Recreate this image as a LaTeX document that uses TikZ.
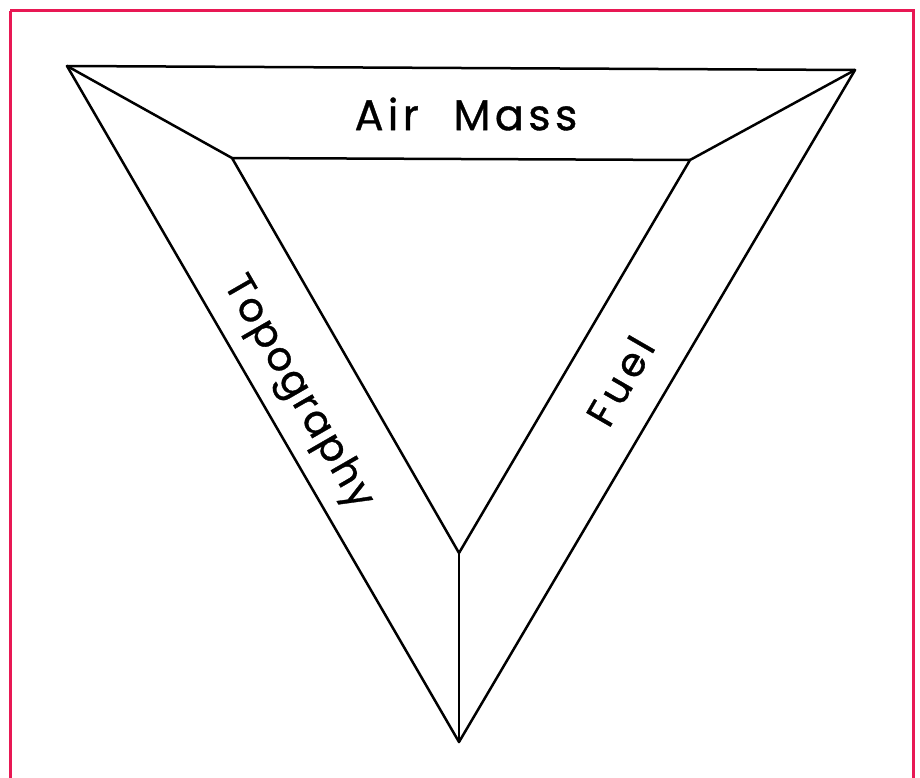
\documentclass[tikz,border=0pt]{standalone}
\usepackage{fontspec}
\setmainfont{Poppins}
\newfontfamily\airfont[LetterSpace=10,WordSpace=2.2,FakeBold=0.8]{Poppins}
\newfontfamily\topofont[LetterSpace=5,FakeBold=0.8]{Poppins}
\newfontfamily\fuelfont[LetterSpace=12,FakeBold=0.8]{Poppins}
\definecolor{frame}{RGB}{232,24,84}
\begin{document}
\begin{tikzpicture}[x=1pt,y=-1pt,
  edge/.style={line width=2.5pt,black,line join=round,line cap=round},
  lbl/.style={inner sep=0pt}]
\useasboundingbox (0,0) rectangle (920,778);
\fill[white] (0,0) rectangle (920,778);
\draw[frame,line width=3pt] (10,11) -- (913,11) -- (913,790);
\draw[frame,line width=3pt] (10,11) -- (10,790);
% outer vertices
\coordinate (A) at (67,66);
\coordinate (B) at (855,70);
\coordinate (C) at (459,742);
% inner vertices
\coordinate (a) at (232,158);
\coordinate (b) at (690,160);
\coordinate (c) at (459,553);
\draw[edge] (A) -- (B) -- (C) -- cycle;
\draw[edge] (a) -- (b) -- (c) -- cycle;
\draw[edge] (A) -- (a);
\draw[edge] (B) -- (b);
\draw[edge] (C) -- (c);
\node[lbl,font=\airfont\fontsize{43}{47}\selectfont] (air) at (466,114) {Air Mass};
\node[lbl,rotate=-60,font=\topofont\fontsize{40}{44}\selectfont] (topo) at (297,393) {Topography};
\node[lbl,rotate=60,font=\fuelfont\fontsize{40}{44}\selectfont] (fuel) at (620,381) {Fuel};
\end{tikzpicture}
\end{document}
